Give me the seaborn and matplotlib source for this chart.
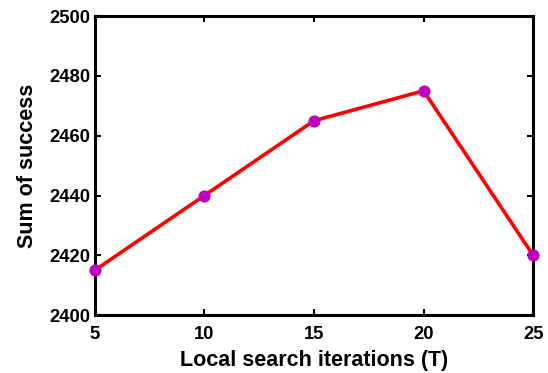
import matplotlib
matplotlib.use("Agg")
import matplotlib.pyplot as plt
import seaborn as sns
import pandas as pd

iterations = [5, 10, 15, 20, 25]
success = [2415, 2440, 2465, 2475, 2420]
x_ticks = [5, 10, 15, 20, 25]
y_ticks = [2400, 2420, 2440, 2460, 2480, 2500]

sns.set_style("ticks")
plt.rcParams['font.family'] = ['Liberation Sans', 'DejaVu Sans']
plt.rcParams['font.weight'] = 'bold'
plt.rcParams['text.color'] = 'black'
plt.rcParams['axes.labelcolor'] = 'black'

df = pd.DataFrame({"T": iterations, "S": success})
fig = plt.figure(figsize=(5.48, 3.73), dpi=100)
ax = fig.add_axes([0.173, 0.155, 0.800, 0.802])
sns.lineplot(data=df, x="T", y="S", ax=ax, color="#ff0000", linewidth=2.6,
             marker="o", markersize=8, markerfacecolor="#c000c0",
             markeredgecolor="#c000c0", zorder=3, clip_on=False)
ax.set_xlim(5, 25)
ax.set_ylim(2400, 2500)
ax.set_xticks(x_ticks)
ax.set_yticks(y_ticks)
ax.tick_params(direction="in", length=4, width=1.5, labelsize=13.2,
               top=True, right=True, colors="black", labelcolor="black")
ax.tick_params(axis="x", pad=8)
ax.tick_params(axis="y", pad=3)
for lab in ax.get_xticklabels() + ax.get_yticklabels():
    lab.set_fontweight("bold")
for s in ax.spines.values():
    s.set_linewidth(2.2)
    s.set_color("black")
ax.set_xlabel("Local search iterations (T)", fontsize=15.5, fontweight="bold",
              labelpad=5, color="black")
ax.set_ylabel("Sum of success", fontsize=15.5, fontweight="bold",
              labelpad=8, color="black")
fig.savefig("out.png", dpi=100)
